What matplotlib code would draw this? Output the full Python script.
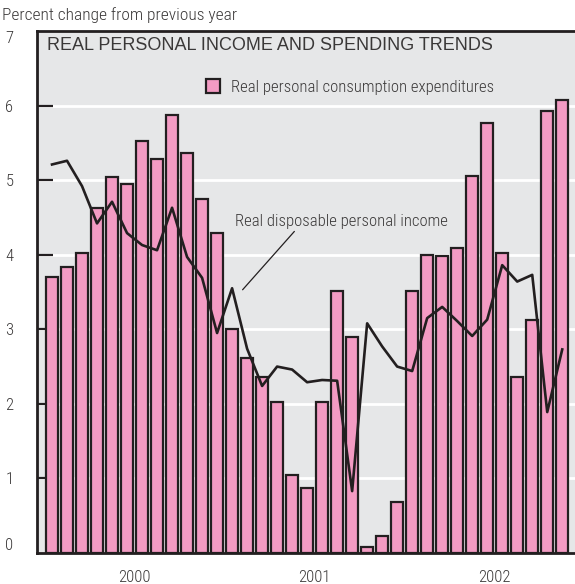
"""
Real personal income and spending trends, monthly, Jan 2000 - Nov 2002.
Bars: real personal consumption expenditures; line: real disposable income.
"""
import numpy as np
import matplotlib
matplotlib.use("Agg")
import matplotlib.pyplot as plt
from matplotlib import font_manager

# ---------------------------------------------------------------------------
# Data (percent change from previous year)
# ---------------------------------------------------------------------------
years = ["2000", "2001", "2002"]
months_per_year = 12

consumption = [
    3.70, 3.84, 4.02, 4.62, 5.04, 4.95, 5.53, 5.29, 5.87, 5.36, 4.75, 4.29,
    3.00, 2.62, 2.36, 2.03, 1.04, 0.87, 2.02, 3.51, 2.89, 0.08, 0.23, 0.69,
    3.51, 3.99, 3.98, 4.09, 5.05, 5.76, 4.02, 2.36, 3.13, 5.93, 6.07,
]

disposable_income = [
    5.21, 5.26, 4.92, 4.42, 4.71, 4.29, 4.13, 4.06, 4.63, 3.97, 3.69, 2.95,
    3.55, 2.74, 2.24, 2.50, 2.46, 2.29, 2.32, 2.31, 0.83, 3.08, 2.77, 2.50,
    2.44, 3.15, 3.30, 3.11, 2.91, 3.13, 3.86, 3.64, 3.73, 1.89, 2.73,
]

PINK = "#f39bc3"
INK = "#231f20"
TEXT = "#3a3838"
PANEL = "#e6e7e8"

installed = {f.name for f in font_manager.fontManager.ttflist}
narrow_candidates = ["Liberation Sans Narrow", "Roboto Condensed",
                     "Open Sans Condensed", "DejaVu Sans Condensed",
                     "Noto Sans Condensed"]
narrow = next((n for n in narrow_candidates if n in installed), None)
NARROW = [narrow, "DejaVu Sans"] if narrow else ["DejaVu Sans"]
STRETCH = "normal" if narrow else "condensed"
WEIGHT = "light"

# ---------------------------------------------------------------------------
# Plot
# ---------------------------------------------------------------------------
x = np.arange(len(consumption))

fig = plt.figure(figsize=(5.75, 5.84), dpi=100)
ax = fig.add_axes([37 / 575, 31 / 584, 538 / 575, 522 / 584])
ax.set_facecolor(PANEL)

ax.bar(x, consumption, width=0.8, color=PINK, edgecolor=INK,
       linewidth=1.6, zorder=3,
       label="Real personal consumption expenditures")
ax.plot(x, disposable_income, color=INK, linewidth=1.9, zorder=4)

ax.set_xlim(-1.0, 34.85)
ax.set_ylim(0, 7)

# white grid lines
for level in range(1, 7):
    ax.axhline(level, color="white", linewidth=2.0, zorder=1)

# y ticks: short inward marks, labels far left
ax.set_yticks(range(0, 8))
ax.set_yticklabels([str(v) for v in range(0, 8)], family=NARROW,
                   weight=WEIGHT, fontsize=12, color=TEXT)
ax.tick_params(axis="y", direction="in", length=11.5, width=1.6, color=INK,
               pad=17, zorder=5)
ylabels = ax.get_yticklabels()
ylabels[0].set_va("bottom")
ylabels[-1].set_va("top")
ax.yaxis.get_major_ticks()[0].tick1line.set_visible(False)
ax.yaxis.get_major_ticks()[-1].tick1line.set_visible(False)

# x labels at mid-year
centers = [i * months_per_year + 5.5 for i in range(len(years))]
ax.set_xticks(centers)
ax.set_xticklabels(years, family=NARROW, weight=WEIGHT, fontsize=12,
                   color=TEXT)
ax.tick_params(axis="x", length=0, pad=12)

for side in ("left", "top", "bottom"):
    ax.spines[side].set_linewidth(2.0)
    ax.spines[side].set_color(INK)
ax.spines["right"].set_visible(False)

# titles and annotations
fig.text(2 / 575, 1 - 15 / 584, "Percent change from previous year",
         family=NARROW, fontstretch=STRETCH, weight=WEIGHT, fontsize=12.5,
         color=TEXT, va="center", ha="left")
ax.text(10 / 538, 1 - 15 / 522, "REAL PERSONAL INCOME AND SPENDING TRENDS",
        transform=ax.transAxes, family=["Liberation Sans", "DejaVu Sans"],
        fontsize=13, color=TEXT, va="center", ha="left")

ax.legend(loc="center left", bbox_to_anchor=(169 / 538, 1 - 56 / 522),
          frameon=False, handlelength=0.85, handleheight=0.85,
          handletextpad=0.65, borderpad=0, borderaxespad=0, labelcolor=TEXT,
          prop={"family": NARROW, "size": 12, "stretch": STRETCH,
                "weight": WEIGHT})

ax.annotate("Real disposable personal income", xy=(12.7, 3.53),
            xytext=(12.2, 4.45), family=NARROW, fontstretch=STRETCH,
            weight=WEIGHT, fontsize=12, color=TEXT, va="center", ha="left",
            arrowprops=dict(arrowstyle="-", color=INK, linewidth=0.9,
                            shrinkA=0, shrinkB=0,
                            relpos=(0.29, 0.0)))

fig.savefig("out.png", dpi=100, facecolor="white")
